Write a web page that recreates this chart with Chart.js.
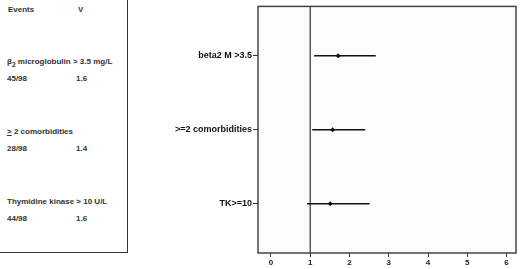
<!DOCTYPE html>
<html>
<head>
<meta charset="utf-8">
<script src="https://cdn.jsdelivr.net/npm/chart.js@4"></script>
<style>
  body { margin: 0; width: 520px; height: 269px; background: #fff; position: relative; overflow: hidden; font-family: "Liberation Sans", Arial, sans-serif; }
  #table { position: absolute; left: -1px; top: -1px; width: 127px; height: 252px; border: 1px solid #333; }
  #table div { position: absolute; font-size: 8px; font-weight: bold; color: #333; white-space: nowrap; }
  #wrap { position: absolute; left: 140px; top: 0; width: 380px; height: 269px; }
</style>
</head>
<body>
<div id="table"></div>
<div id="wrap"><canvas id="chart"></canvas></div>
<script>
// left table
const tableHeaders = ["Events", "V"];
const factorNames = ["β<sub>2</sub> microglobulin &gt; 3.5 mg/L", "<u>&gt;</u> 2 comorbidities", "Thymidine kinase &gt; 10 U/L"];
const eventCounts = ["45/98", "28/98", "44/98"];
const vValues = ["1.6", "1.4", "1.6"];

// forest plot
const rowLabels = ["beta2 M >3.5", ">=2 comorbidities", "TK>=10"];
const estimates = [1.71, 1.57, 1.51];
const lower = [1.10, 1.05, 0.92];
const upper = [2.67, 2.40, 2.51];
const xTicks = [0, 1, 2, 3, 4, 5, 6];

const table = document.querySelector("#table");
let html = `<div style="left:8px;top:5px">${tableHeaders[0]}</div>
  <div style="left:78px;top:5px">${tableHeaders[1]}</div>`;
factorNames.forEach((name, i) => {
  let top = 57 + i * 70;
  html += `<div style="left:7px;top:${top}px">${name}</div>
    <div style="left:7px;top:${top + 17}px">${eventCounts[i]}</div>
    <div style="left:76px;top:${top + 17}px">${vValues[i]}</div>`;
});
table.innerHTML = html;

const rowY = rowLabels.map((l, i) => rowLabels.length - i);

const datasets = [];
rowLabels.forEach((l, i) => {
  datasets.push({
    type: "line",
    data: [{ x: lower[i], y: rowY[i] }, { x: upper[i], y: rowY[i] }],
    borderColor: "#111",
    borderWidth: 1.5,
    pointRadius: 0,
  });
});
datasets.push({
  type: "line",
  data: [{ x: 1, y: 0.333 }, { x: 1, y: 3.667 }],
  borderColor: "#333",
  borderWidth: 1.2,
  pointRadius: 0,
});
datasets.push({
  type: "scatter",
  data: estimates.map((v, i) => ({ x: v, y: rowY[i] })),
  pointStyle: "rectRot",
  pointRadius: 2.5,
  backgroundColor: "#111",
  borderColor: "#111",
  borderWidth: 0,
});

const frame = {
  id: "frame",
  beforeDraw(chart) {
    const { ctx, chartArea: a } = chart;
    ctx.save();
    ctx.fillStyle = "#fcfcfc";
    ctx.fillRect(a.left, a.top, a.right - a.left, a.bottom - a.top);
    ctx.restore();
  },
  afterDraw(chart) {
    const { ctx, chartArea: a } = chart;
    ctx.save();
    ctx.strokeStyle = "#444";
    ctx.lineWidth = 1.5;
    ctx.strokeRect(a.left, a.top, a.right - a.left, a.bottom - a.top);
    ctx.restore();
  },
};

new Chart(document.getElementById("chart"), {
  type: "scatter",
  data: { datasets },
  plugins: [frame],
  options: {
    responsive: true,
    maintainAspectRatio: false,
    animation: false,
    layout: { padding: { top: 3, right: 4, left: 0, bottom: 0 } },
    plugins: { legend: { display: false }, tooltip: { enabled: false } },
    scales: {
      x: {
        type: "linear",
        min: -0.33,
        max: 6.24,
        afterBuildTicks: (s) => { s.ticks = xTicks.map((v) => ({ value: v })); },
        afterFit: (s) => { s.height = 16; },
        grid: { display: true, drawOnChartArea: false, drawTicks: true, tickLength: 4, color: "#333" },
        border: { display: false },
        ticks: { color: "#222", padding: 1, font: { family: "Liberation Sans", size: 8, weight: "bold" } },
      },
      y: {
        type: "linear",
        min: 0.333,
        max: 3.667,
        afterBuildTicks: (s) => { s.ticks = rowY.map((v) => ({ value: v })); },
        afterFit: (s) => { s.width = 118; },
        grid: { display: true, drawOnChartArea: false, drawTicks: true, tickLength: 5, color: "#333" },
        border: { display: false },
        ticks: {
          color: "#111",
          padding: 1,
          font: { family: "Liberation Sans", size: 9, weight: "bold" },
          callback: (v) => rowLabels[rowLabels.length - v],
        },
      },
    },
  },
});
</script>
</body>
</html>
